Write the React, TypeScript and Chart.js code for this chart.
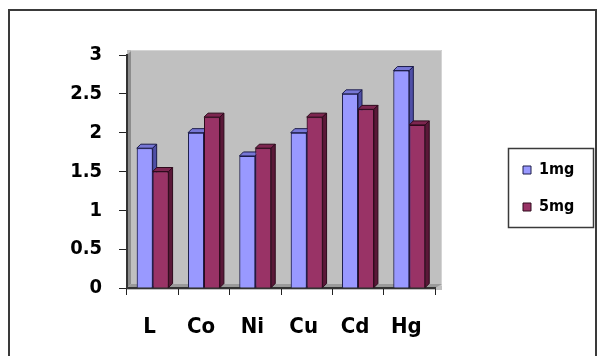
import React, { useEffect, useRef } from 'react';
import { Chart, registerables } from 'chart.js';

Chart.register(...registerables);

const categories = ['L', 'Co', 'Ni', 'Cu', 'Cd', 'Hg'];
const series1mg = [1.8, 2.0, 1.7, 2.0, 2.5, 2.8];
const series5mg = [1.5, 2.2, 1.8, 2.2, 2.3, 2.1];
const seriesLabels = ['1mg', '5mg'];
const yTicks = [0, 0.5, 1, 1.5, 2, 2.5, 3];

const FRONT = ['#9999ff', '#993366'];
const TOP = ['#7777d6', '#7d2650'];
const SIDE = ['#4f4fa6', '#5a1838'];
const EDGE = ['#1c1c4a', '#2e0a1c'];
const DX = 4;
const DY = 4;
const FONT = '"DejaVu Sans Condensed", "DejaVu Sans", sans-serif';
const TARGET_RIGHT = 435;

const decorPlugin = {
  id: 'decor',
  afterLayout(chart: any) {
    const lg = chart.legend;
    if (!lg) return;
    const pad = lg.options.labels.padding;
    const w = lg.width;
    lg.left = 523 - pad;
    lg.right = lg.left + w;
    lg.top = 170 - 8 - pad;
    lg.bottom = lg.top + 200;
  },
  beforeDraw(chart: any) {
    const { ctx, chartArea: a } = chart;
    ctx.save();
    ctx.fillStyle = '#ffffff';
    ctx.fillRect(0, 0, chart.width, chart.height);
    // outer frame
    ctx.strokeStyle = '#3a3a3a';
    ctx.lineWidth = 2;
    ctx.beginPath();
    ctx.moveTo(9, 400);
    ctx.lineTo(9, 10);
    ctx.lineTo(596, 10);
    ctx.lineTo(596, 400);
    ctx.stroke();
    // back wall
    ctx.fillStyle = '#c0c0c0';
    ctx.fillRect(a.left, a.top - 5, a.right - a.left + 7, a.bottom - a.top + 7);
    ctx.strokeStyle = '#d4d4d4';
    ctx.lineWidth = 1;
    ctx.beginPath();
    ctx.moveTo(a.left + 4, a.top - 4.5);
    ctx.lineTo(a.right + 6.5, a.top - 4.5);
    ctx.lineTo(a.right + 6.5, a.bottom - 2);
    ctx.stroke();
    // left side wall
    ctx.fillStyle = '#8c8c8c';
    ctx.beginPath();
    ctx.moveTo(a.left, a.bottom);
    ctx.lineTo(a.left, a.top);
    ctx.lineTo(a.left + 4, a.top - 4);
    ctx.lineTo(a.left + 4, a.bottom - 4);
    ctx.closePath();
    ctx.fill();
    // floor
    ctx.fillStyle = '#9a9a9a';
    ctx.beginPath();
    ctx.moveTo(a.left, a.bottom);
    ctx.lineTo(a.right, a.bottom);
    ctx.lineTo(a.right + 7, a.bottom - 4);
    ctx.lineTo(a.left + 4, a.bottom - 4);
    ctx.closePath();
    ctx.fill();
    ctx.restore();
  },
  afterDatasetsDraw(chart: any) {
    const ctx = chart.ctx;
    ctx.save();
    chart.data.datasets.forEach((_ds: any, di: number) => {
      const meta = chart.getDatasetMeta(di);
      meta.data.forEach((el: any) => {
        const { x, y, base, width } = el.getProps(['x', 'y', 'base', 'width'], true);
        const l = x - width / 2;
        const r = x + width / 2;
        el.draw(ctx);
        ctx.lineWidth = 1;
        ctx.strokeStyle = EDGE[di];
        // top face
        ctx.beginPath();
        ctx.moveTo(l, y);
        ctx.lineTo(l + DX, y - DY);
        ctx.lineTo(r + DX, y - DY);
        ctx.lineTo(r, y);
        ctx.closePath();
        ctx.fillStyle = TOP[di];
        ctx.fill();
        ctx.stroke();
        // side face
        ctx.beginPath();
        ctx.moveTo(r, y);
        ctx.lineTo(r + DX, y - DY);
        ctx.lineTo(r + DX, base - DY);
        ctx.lineTo(r, base);
        ctx.closePath();
        ctx.fillStyle = SIDE[di];
        ctx.fill();
        ctx.stroke();
      });
    });
    ctx.restore();
  },
  afterDraw(chart: any) {
    const ctx = chart.ctx;
    ctx.save();
    ctx.strokeStyle = '#3a3a3a';
    ctx.lineWidth = 1.5;
    ctx.strokeRect(508.5, 148.5, 85, 79);
    ctx.restore();
  },
};

export default function App() {
  const ref = useRef<HTMLCanvasElement | null>(null);
  useEffect(() => {
    if (!ref.current) return;
    const chart = new Chart(ref.current, {
      type: 'bar',
      data: {
        labels: categories,
        datasets: [
          {
            label: seriesLabels[0],
            data: series1mg,
            backgroundColor: FRONT[0],
            borderColor: EDGE[0],
            borderWidth: 1,
            categoryPercentage: 0.62,
            barPercentage: 1,
          },
          {
            label: seriesLabels[1],
            data: series5mg,
            backgroundColor: FRONT[1],
            borderColor: EDGE[1],
            borderWidth: 1,
            categoryPercentage: 0.62,
            barPercentage: 1,
          },
        ],
      },
      options: {
        responsive: false,
        animation: false,
        layout: { padding: { top: 55, left: 0, right: 90, bottom: 0 } },
        plugins: {
          tooltip: { enabled: false },
          legend: {
            position: 'right',
            align: 'start',
            labels: {
              boxWidth: 8,
              boxHeight: 8,
              padding: 21,
              color: '#000',
              font: { family: FONT, size: 16, weight: 'bold' },
            },
          },
        },
        scales: {
          x: {
            grid: {
              offset: true,
              drawOnChartArea: false,
              drawTicks: true,
              tickLength: 7,
              color: '#222',
            },
            border: { display: true, color: '#333', width: 2 },
            ticks: {
              color: '#000',
              padding: 19,
              labelOffset: -3,
              font: { family: FONT, size: 22, weight: 'bold' },
            },
            afterFit: (s: any) => {
              s.height = 68;
            },
          },
          y: {
            min: 0,
            max: 3,
            afterBuildTicks: (s: any) => {
              s.ticks = yTicks.map((v) => ({ value: v }));
            },
            grid: {
              drawOnChartArea: false,
              drawTicks: true,
              tickLength: 8,
              color: '#222',
            },
            border: { display: true, color: '#333', width: 2 },
            ticks: {
              color: '#000',
              padding: 17,
              font: { family: FONT, size: 20, weight: 'bold' },
              callback: (v: any) => String(Number(v)),
            },
            afterFit: (s: any) => {
              s.width = 127;
            },
          },
        },
      },
      plugins: [decorPlugin],
    } as any);
    const diff = TARGET_RIGHT - chart.chartArea.right;
    if (Math.abs(diff) > 0.1) {
      (chart.options as any).layout.padding.right -= diff;
      chart.update();
    }
    return () => chart.destroy();
  }, []);
  return (
    <div style={{ position: 'absolute', left: 0, top: 0, width: 598, height: 356 }}>
      <canvas ref={ref} width={598} height={356} style={{ display: 'block' }} />
    </div>
  );
}
